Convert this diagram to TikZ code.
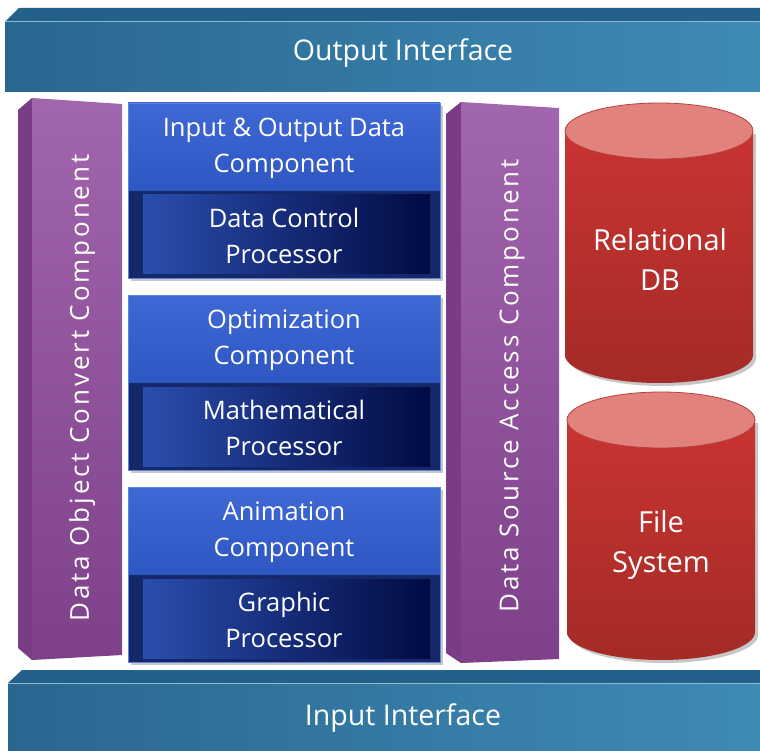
\documentclass[tikz,border=0pt]{standalone}
\usepackage{fontspec}
\setmainfont{Open Sans}
\usetikzlibrary{positioning}
\definecolor{barblue}{HTML}{3E8BB6}
\definecolor{bardark}{HTML}{2A6790}
\definecolor{bartop}{HTML}{23608A}
\definecolor{pillarlight}{HTML}{A266AE}
\definecolor{pillardark}{HTML}{7E4189}
\definecolor{pillarside}{HTML}{7A3C85}
\definecolor{boxlight}{HTML}{3F68D4}
\definecolor{boxblue}{HTML}{2F57C4}
\definecolor{boxedge}{HTML}{5C82E2}
\definecolor{boxnavy}{HTML}{15296A}
\definecolor{navyleft}{HTML}{2A4EAE}
\definecolor{navyright}{HTML}{020A42}
\definecolor{dbred}{HTML}{C93431}
\definecolor{dbdark}{HTML}{A42B27}
\definecolor{dbtop}{HTML}{E2827D}
\definecolor{dbedge}{HTML}{B5403C}

\begin{document}
\begin{tikzpicture}[x=1pt, y=-1pt,
    lbl/.style={text=white, align=center, font=\fontsize{25.5}{36}\selectfont},
    barlbl/.style={lbl, font=\fontsize{28.5}{34}\selectfont},
    dblbl/.style={lbl, font=\fontsize{29}{40}\selectfont},
    vlbl/.style={lbl, rotate=90, font=\fontsize{26}{30}\selectfont\addfontfeature{LetterSpace=11}},
    shadowfill/.style={fill=black!22}]
  \useasboundingbox (0,0) rectangle (760,751);

  % output and input bars
  \fill[bartop] (5,22) -- (19,8) -- (760,8) -- (760,22) -- cycle;
  \shade[left color=bardark, right color=barblue] (5,22) rectangle (760,92);
  \draw[barblue!60!white, line width=1pt] (5,22) -- (760,22);
  \node[barlbl] (out) at (403,53) {Output Interface};

  \fill[bartop] (8,683) -- (22,670) -- (760,670) -- (760,683) -- cycle;
  \shade[left color=bardark, right color=barblue] (8,683) rectangle (760,751);
  \draw[barblue!60!white, line width=1pt] (8,683) -- (760,683);
  \node[barlbl] (in) at (403,718) {Input Interface};

  % purple pillars
  \fill[pillarside] (18,110) -- (32,98) -- (32,660) -- (18,648) -- cycle;
  \shade[top color=pillarlight, bottom color=pillardark] (32,98) -- (122,104) -- (122,655) -- (32,660) -- cycle;
  \node[vlbl] (conv) at (82,388) {Data Object Convert Component};

  \fill[pillarside] (446,114) -- (461,102) -- (461,663) -- (446,653) -- cycle;
  \shade[top color=pillarlight, bottom color=pillardark] (461,102) -- (559,108) -- (559,659) -- (461,663) -- cycle;
  \node[vlbl] (acc) at (512,386) {Data Source Access Component};

  % component / processor stacks
  \foreach \i/\t/\ctext/\ptext in {1/103/{Input \& Output Data\\Component}/{Data Control\\Processor},
      2/295/{Optimization\\Component}/{Mathematical\\Processor},
      3/487/{Animation\\Component}/{Graphic\\Processor}} {
    \pgfmathsetmacro{\m}{\t+88}
    \pgfmathsetmacro{\b}{\t+175}
    \fill[shadowfill] (131,\t+3) rectangle (443,\b+3);
    \shade[top color=boxlight, bottom color=boxblue] (128,\t) rectangle (440,\m);
    \fill[boxnavy] (128,\m) rectangle (440,\b);
    \shade[left color=navyleft, right color=navyright] (143,\m+4) rectangle (430,\b-4);
    \draw[boxedge, line width=0.8pt] (128,\t) rectangle (440,\b);
    \node[lbl] (c\i) at (284,\t+45) {\ctext};
    \node[lbl] (p\i) at (284,\m+45) {\ptext};
  }

  % data stores
  \fill[shadowfill] (568,134) -- (568,358) arc[start angle=180, end angle=0, x radius=94, y radius=28] -- (756,134) -- cycle;
  \shade[top color=dbred, bottom color=dbdark] (565,131) -- (565,355) arc[start angle=180, end angle=0, x radius=94, y radius=28] -- (753,131) -- cycle;
  \draw[dbedge, fill=dbtop, line width=0.8pt] (659,131) ellipse [x radius=94, y radius=28];
  \node[dblbl] (rdb) at (660,259) {Relational\\DB};

  \fill[shadowfill] (570,423) -- (570,635) arc[start angle=180, end angle=0, x radius=94, y radius=28] -- (758,423) -- cycle;
  \shade[top color=dbred, bottom color=dbdark] (567,420) -- (567,632) arc[start angle=180, end angle=0, x radius=94, y radius=28] -- (755,420) -- cycle;
  \draw[dbedge, fill=dbtop, line width=0.8pt] (661,420) ellipse [x radius=94, y radius=28];
  \node[dblbl] (fs) at (661,545) {File\\System};
\end{tikzpicture}
\end{document}
